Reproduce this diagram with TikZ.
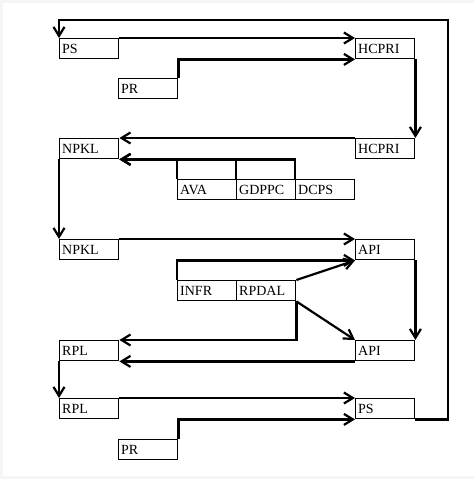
\documentclass[tikz,border=0pt]{standalone}
\usepackage{fontspec}
\setmainfont{Liberation Serif}
\usetikzlibrary{arrows.meta}

\tikzset{
	blk/.style={draw, line width=1.4pt, fill=white, anchor=north west, inner xsep=2.5pt, inner ysep=0pt,
		text width=54pt, minimum height=20pt, align=left, font=\fontsize{14}{16}\selectfont},
	link/.style={line width=2.2pt, -{Straight Barb[length=9pt,width=11pt,line width=2.2pt]}}
}

\begin{document}
\begin{tikzpicture}[x=1pt, y=-1pt]

	\def\w{59}				% width of one box
	\def\xa{59}				% left column
	\def\xb{355}			% right column
	
	% page and its light frame
	\fill[gray!8] (0,0) rectangle (474,479);
	\fill[white] (3,3) rectangle (474,476);
	\useasboundingbox (0,0) rectangle (474,479);
	
	% left column
	\node[blk] (PSa) at (\xa,38) {PS};
	\node[blk] (NPKLa) at (\xa,138) {NPKL};
	\node[blk] (NPKLb) at (\xa,239) {NPKL};
	\node[blk] (RPLa) at (\xa,340) {RPL};
	\node[blk] (RPLb) at (\xa,398) {RPL};
	
	% right column
	\node[blk] (HCPRIa) at (\xb,38) {HCPRI};
	\node[blk] (HCPRIb) at (\xb,138) {HCPRI};
	\node[blk] (APIa) at (\xb,239) {API};
	\node[blk] (APIb) at (\xb,340) {API};
	\node[blk] (PSb) at (\xb,398) {PS};
	
	% inputs in the middle
	\node[blk] (PRa) at (\xa+\w,78) {PR};
	\node[blk] (PRb) at (\xa+\w,439) {PR};
	\foreach \name [count=\i] in {AVA,GDPPC,DCPS}{
		\node[blk] (\name) at (\xa+\w+\i*\w,179) {\name};
	}
	\node[blk] (INFR) at (\xa+2*\w,280) {INFR};
	\node[blk] (RPDAL) at (\xa+3*\w,280) {RPDAL};
	
	% connectors
	\draw[link] (PSa.north east) -- (HCPRIa.north west);
	\draw[link] (PRa.north east) |- (HCPRIa.south west);
	\draw[link] (HCPRIa.south east) -- (HCPRIb.north east);
	\draw[link] (HCPRIb.north west) -- (NPKLa.north east);
	\foreach \name in {DCPS,GDPPC,AVA}{
		\draw[link] (\name.north west) |- (NPKLa.south east);
	}
	\draw[link] (NPKLa.south west) -- (NPKLb.north west);
	\draw[link] (NPKLb.north east) -- (APIa.north west);
	\draw[link] (INFR.north west) |- (APIa.south west);
	\draw[link] (RPDAL.north east) -- (APIa.south west);
	\draw[link] (RPDAL.south east) -- (APIb.north west);
	\draw[link] (RPDAL.south east) |- (RPLa.north east);
	\draw[link] (APIa.south east) -- (APIb.north east);
	\draw[link] (APIb.south west) -- (RPLa.south east);
	\draw[link] (RPLa.south west) -- (RPLb.north west);
	\draw[link] (RPLb.north east) -- (PSb.north west);
	\draw[link] (PRb.north east) |- (PSb.south west);
	
	% feedback loop round the right side
	\coordinate (back) at (448,20);
	\draw[link] (PSb.south east) -| (back) -| (PSa.north west);

\end{tikzpicture}
\end{document}
